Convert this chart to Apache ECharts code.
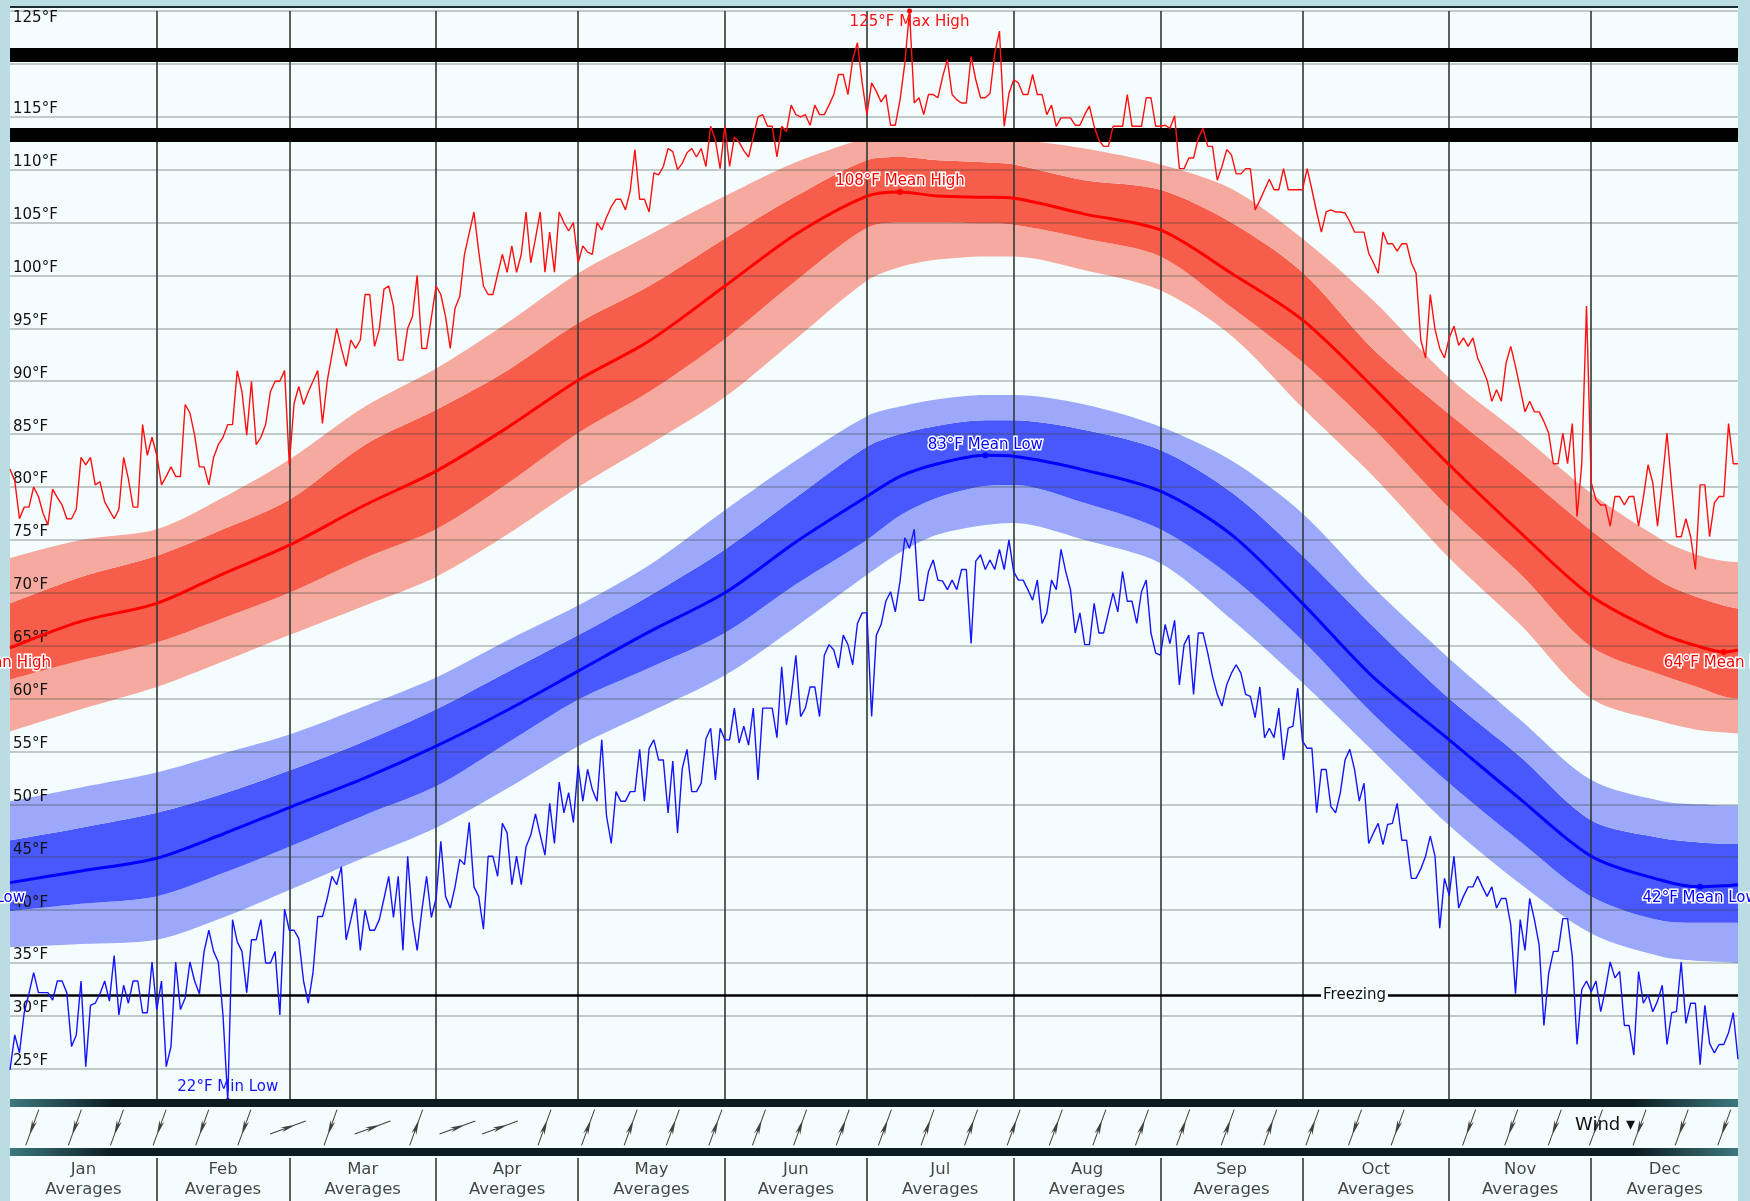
<!DOCTYPE html>
<html>
<head>
<meta charset="utf-8">
<script src="https://cdn.jsdelivr.net/npm/echarts@6/dist/echarts.min.js"></script>
<style>
html,body{margin:0;padding:0;background:#b9dde2;}
#chart{width:1750px;height:1201px;}
</style>
</head>
<body>
<div id="chart"></div>
<script>
var dayMarks = [0,15,31,45,59,75,90,105,120,135,151,166,181,188,196,206,212,227,243,258,273,288,304,319,334,349,357,362,365];

var highLightLo = [56.9,59.0,61.1,63.5,66.0,68.8,71.5,75.5,80.0,84.0,88.5,94.0,99.5,100.8,101.5,101.8,101.8,100.5,98.6,94.3,87.5,81.0,73.3,67.0,60.0,57.8,57.0,56.8,56.7];
var highDarkLo  = [61.8,63.6,65.3,67.6,70.0,73.3,76.0,80.3,85.1,89.0,94.0,99.5,104.5,105.0,105.0,104.9,104.8,103.5,101.8,97.0,91.8,85.5,78.0,71.8,64.9,62.2,61.0,60.2,60.0];
var highMean    = [64.8,67.3,69.0,71.8,74.5,78.3,81.5,85.6,90.1,93.8,99.0,103.9,107.5,107.9,107.5,107.4,107.3,105.8,104.3,100.2,95.8,89.4,82.1,75.7,69.7,66.1,64.9,64.4,64.6];
var highDarkHi  = [69.0,71.5,73.5,76.0,78.8,84.0,87.3,91.0,95.5,99.0,103.5,107.5,110.9,111.2,110.9,110.7,110.5,109.0,108.1,105.0,100.3,93.0,86.9,81.5,75.9,71.0,69.5,68.8,68.5];
var highLightHi = [73.3,75.0,76.0,79.0,82.6,87.6,91.2,95.5,100.2,103.8,107.5,110.7,113.0,113.4,113.3,113.1,112.9,112.0,110.5,108.2,103.5,97.6,90.3,85.0,79.4,75.0,73.5,73.0,72.9];

var lowLightLo = [36.5,36.8,37.2,39.3,41.9,45.0,47.8,51.5,55.5,58.7,62.2,66.8,71.7,73.8,75.5,76.4,76.6,75.0,72.8,67.5,61.5,55.0,48.0,42.5,37.8,35.6,35.2,35.1,35.0];
var lowDarkLo  = [39.9,40.6,41.3,43.5,46.0,49.0,51.7,55.8,59.9,62.9,66.2,70.8,75.0,77.3,79.0,80.1,80.2,78.5,76.0,71.5,65.5,58.5,52.0,46.5,41.3,39.0,38.8,38.8,38.8];
var lowMean    = [42.6,43.7,44.9,47.2,49.7,52.5,55.5,58.9,62.6,66.3,70.0,74.8,79.1,81.0,82.2,83.0,82.9,81.6,79.6,75.5,69.0,62.0,56.1,50.5,45.1,42.8,42.2,42.3,42.4];
var lowDarkHi  = [46.6,47.8,49.2,51.0,53.2,56.0,59.0,62.5,66.0,69.7,74.1,79.0,83.8,85.0,85.8,86.3,86.3,85.4,83.5,79.5,73.5,66.8,60.0,54.5,48.5,46.8,46.4,46.3,46.3];
var lowLightHi = [50.3,51.6,53.0,54.8,56.6,59.3,62.0,65.5,68.8,72.6,77.8,82.5,86.7,87.6,88.3,88.7,88.7,87.8,85.7,82.5,77.5,70.5,63.8,58.0,52.3,50.3,50.0,49.9,49.9];

// daily record high / record low, day 0 = Jan 1
var recordHigh = [81.7,80.6,77.0,78.1,78.1,80.0,79.1,77.5,76.4,79.8,
79.0,78.3,77.0,77.0,77.9,82.8,82.1,82.8,80.2,80.5,
78.6,77.8,77.0,77.9,82.8,80.8,78.1,78.1,85.9,83.0,
84.7,83.0,80.2,81.0,81.9,81.0,81.0,87.8,87.0,84.9,
81.9,81.9,80.2,82.8,84.0,84.7,85.9,85.9,91.0,89.0,
84.9,90.0,84.0,84.7,85.9,89.0,90.0,90.0,91.0,82.1,
87.9,89.5,87.8,89.0,90.0,91.0,86.0,90.0,92.5,95.0,
93.1,91.4,93.9,93.1,93.9,98.2,98.2,93.3,94.9,98.7,
99.0,97.1,92.0,92.0,95.0,96.1,100.0,93.1,93.1,96.0,
99.0,98.2,96.1,93.1,96.9,98.0,102.0,104.0,106.0,102.3,
99.0,98.2,98.2,100.1,102.0,100.3,102.8,100.3,102.0,106.0,
101.2,103.5,106.0,100.3,104.1,100.3,106.0,105.0,104.2,105.0,
101.2,102.8,102.2,102.0,105.0,104.3,105.5,106.5,107.2,107.2,
106.2,108.0,111.9,107.2,107.2,106.0,109.7,109.5,110.3,112.0,
111.7,110.0,110.6,111.6,112.0,111.2,112.0,110.3,114.1,112.8,
110.1,114.1,110.3,113.1,112.6,111.8,111.2,113.1,115.0,115.2,
114.1,114.1,111.2,114.1,113.6,116.1,115.2,115.0,115.2,114.2,
116.1,115.2,115.2,116.1,117.1,119.0,119.0,117.1,120.4,122.0,
118.2,115.2,118.2,117.4,116.4,117.1,114.2,114.2,116.6,120.0,
125.0,116.3,116.8,115.2,117.1,117.1,116.8,118.8,120.4,117.1,
116.6,116.3,116.3,120.7,118.5,116.8,116.8,117.2,121.0,123.1,
114.1,117.2,118.5,118.2,117.1,117.1,119.0,117.1,117.1,115.2,
116.1,114.1,114.9,114.9,114.9,114.2,114.2,115.2,116.0,114.1,
112.8,112.2,112.2,114.1,114.1,114.1,117.1,114.1,114.1,114.1,
116.8,116.8,114.1,114.1,114.2,113.9,115.1,110.1,110.1,111.1,
111.1,113.0,113.9,112.2,112.2,109.0,110.3,111.9,111.4,109.6,
109.6,110.1,110.1,106.2,107.1,108.1,109.1,108.1,108.1,110.1,
108.1,108.1,108.1,108.1,110.1,108.1,106.0,104.1,106.0,106.2,
106.0,106.0,105.9,105.1,104.1,104.1,104.1,102.1,101.2,100.2,
104.1,103.0,103.0,102.3,103.0,103.0,101.2,100.2,93.9,92.2,
98.2,94.9,93.1,92.2,94.1,95.2,93.4,94.1,93.3,94.1,
92.2,91.2,90.1,88.1,89.2,88.1,91.7,93.3,91.4,89.3,
87.1,88.1,87.1,87.1,86.2,85.1,82.2,82.2,85.1,82.2,
86.0,77.2,82.2,97.1,80.4,78.8,78.3,78.3,76.3,79.1,
79.1,78.3,79.1,79.1,76.3,79.0,82.1,80.4,76.3,80.5,
85.1,80.0,75.3,75.3,77.0,75.3,72.2,80.2,80.2,75.3,
78.5,79.1,79.1,86.0,82.2,82.2];

var recordLow = [24.9,28.2,26.5,30.3,32.1,34.1,32.2,32.2,32.2,31.5,
33.3,33.3,32.2,27.1,28.2,33.3,25.2,31.0,31.2,32.1,
33.3,31.4,35.7,30.1,32.9,31.2,33.3,33.3,30.3,30.3,
35.1,30.6,33.3,25.2,27.1,35.1,30.6,31.7,35.1,33.3,
32.1,36.1,38.1,36.1,35.1,30.0,22.0,39.1,37.0,36.1,
32.2,37.2,37.2,39.1,35.0,35.0,36.1,30.1,40.1,38.1,
38.1,37.3,33.3,31.2,34.1,39.4,39.4,41.1,43.2,42.4,
44.1,37.2,39.1,41.1,36.2,40.0,38.1,38.1,39.1,41.1,
43.2,39.3,43.2,36.2,45.1,39.1,36.2,40.0,43.2,39.3,
41.1,46.5,41.3,40.2,42.2,44.8,44.3,48.3,42.2,41.3,
38.2,45.1,45.1,43.2,48.2,47.3,42.4,45.1,42.4,46.0,
47.1,49.1,47.1,45.2,50.1,46.3,52.1,49.2,51.1,48.3,
53.7,50.3,53.3,51.4,50.3,56.1,48.9,46.3,51.2,50.3,
50.3,51.2,51.2,55.2,50.3,55.3,56.1,54.2,54.2,49.2,
54.1,47.3,53.4,55.2,51.2,51.2,52.0,56.2,57.2,52.3,
57.2,56.1,56.1,59.1,55.8,57.4,55.6,59.1,52.3,59.1,
59.1,59.1,56.3,63.0,57.5,60.2,64.1,58.3,59.1,61.1,
61.1,58.3,64.1,65.1,64.6,62.9,66.0,65.1,63.2,67.1,
68.1,68.1,58.3,66.0,67.0,69.2,70.1,68.2,71.1,75.2,
74.2,76.0,69.3,69.3,72.0,73.1,71.2,71.1,70.3,71.2,
70.3,72.2,72.2,65.2,73.0,73.6,72.2,73.1,72.2,74.1,
72.2,75.0,72.0,71.2,71.2,70.3,69.3,71.2,67.1,68.1,
71.2,70.3,74.1,72.0,70.3,66.2,68.1,65.1,65.1,69.0,
66.2,66.2,68.1,70.0,68.2,72.0,69.2,69.2,67.1,70.1,
71.2,66.2,64.3,64.1,67.0,65.2,67.4,61.3,65.1,66.0,
60.4,66.2,66.2,64.3,62.1,60.4,59.3,61.3,62.4,63.2,
62.4,60.4,60.2,58.2,61.1,56.3,57.2,56.3,59.1,54.2,
57.2,57.4,61.0,56.0,55.3,55.3,49.2,53.3,53.3,49.8,
49.2,51.1,54.2,55.2,53.3,50.3,52.0,46.3,47.3,48.2,
46.2,48.1,48.2,50.1,46.6,46.6,43.0,43.0,43.9,45.1,
47.0,45.1,38.3,43.0,41.4,45.1,40.2,41.3,42.2,42.2,
43.2,42.2,41.3,42.2,40.2,41.1,41.1,38.6,32.1,39.1,
36.2,41.1,39.1,36.7,29.1,34.0,36.1,36.1,39.2,39.2,
35.6,27.3,32.5,33.3,32.3,33.3,30.4,32.5,35.1,33.6,
34.2,29.1,29.1,26.3,34.2,31.2,32.0,30.4,31.4,32.9,
27.3,30.3,30.4,35.1,29.3,31.2,31.2,25.4,31.0,27.4,
26.5,27.3,27.3,28.4,30.3,25.9];

var monthNames = ['Jan','Feb','Mar','Apr','May','Jun','Jul','Aug','Sep','Oct','Nov','Dec'];
var monthStarts = [0,31,59,90,120,151,181,212,243,273,304,334,365];

// wind arrows: day of year and rotation (deg, counter-clockwise from pointing up)
var windDays = [4.7,13.7,22.6,31.6,40.6,49.5,58.7,67.7,76.6,85.8,94.5,103.5,112.9,122.1,131.1,140,149,158.2,166.9,175.9,184.8,193.8,203,212,220.9,230.1,239.1,247.8,257.2,266.2,275.1,284.1,293.1,308.2,317.1,326.3,335,344.2,353.1,362.1];
var windTurn = [160,160,160,160,160,160,-70,160,-70,-20,-70,-70,-20,-20,-20,-20,-20,-20,-20,-20,-20,-20,-20,-20,-20,-20,-20,-20,-20,-20,-20,160,160,160,160,160,160,160,160,160];

var freezing = 32;
var blackBars = [120.86, 113.3];

var FONT = 'DejaVu Sans';
var PLOT_BG = '#f5fcfd';
var GRID_L = 10, GRID_W = 1728;
var pxPerDay = GRID_W / 365;

function pairs(arr) { return dayMarks.map(function (d, i) { return [d, arr[i]]; }); }
// band rows are [value, day] so that stacking runs on the value column
function flip(arr) { return dayMarks.map(function (d, i) { return [arr[i], d]; }); }
function diff(a, b) { return dayMarks.map(function (d, i) { return [+(a[i] - b[i]).toFixed(2), d]; }); }
function daily(arr) { return arr.map(function (v, i) { return [i, v]; }); }

function bands(name, lo1, lo2, hi2, hi1, light, dark) {
  var base = {type: 'line', stack: name, symbol: 'none', smooth: 0.3, silent: true, z: 1,
              encode: {x: 1, y: 0}, lineStyle: {width: 0, opacity: 0}};
  return [
    Object.assign({}, base, {data: flip(lo1)}),
    Object.assign({}, base, {data: diff(lo2, lo1), areaStyle: {color: light, opacity: 1}}),
    Object.assign({}, base, {data: diff(hi2, lo2), areaStyle: {color: dark, opacity: 1}}),
    Object.assign({}, base, {data: diff(hi1, hi2), areaStyle: {color: light, opacity: 1}})
  ];
}

function tag(color, pos, dist, text) {
  return {show: true, position: pos, distance: dist, color: color, fontFamily: FONT, fontSize: 15,
          textBorderColor: '#fff', textBorderWidth: 3,
          formatter: function (p) { return Math.round(p.value) + text; }};
}

function meanMarks(arr, color, text) {
  var mn = Math.min.apply(null, arr);
  var mnDay = dayMarks[arr.indexOf(mn)];
  return {
    symbol: 'circle', symbolSize: 6, itemStyle: {color: color},
    data: [
      {type: 'max', valueDim: 'y', label: tag(color, 'top', 0, text)},
      {type: 'min', valueDim: 'y', label: tag(color, 'bottom', 1, text)},
      // same minimum from the previous year, just left of Jan 1
      {coord: [0, mn], value: mn, symbolSize: 0,
       label: Object.assign(tag(color, 'bottom', 4, text), {offset: [(mnDay - 366) * pxPerDay, 0]})}
    ]
  };
}

var chart = echarts.init(document.getElementById('chart'));

var monthLines = monthStarts.slice(1, 12).map(function (d) { return {xAxis: d}; });

var series = [].concat(
  bands('hi', highLightLo, highDarkLo, highDarkHi, highLightHi, '#f6a99e', '#f65d4b'),
  bands('lo', lowLightLo, lowDarkLo, lowDarkHi, lowLightHi, '#9ca8fa', '#4858fc'),
  [
    {name: 'lines', type: 'line', data: [], z: 4, silent: true,
     markLine: {symbol: 'none', silent: true, animation: false,
       data: monthStarts.slice(1, 12).map(function (d) {
         return {xAxis: d, lineStyle: {color: '#2f3a36', width: 1.6, type: 'solid'}, label: {show: false}};
       }).concat([
         [{coord: [0, freezing]}, {coord: [203, freezing]}],
         [{coord: [203, freezing]}, {coord: [365, freezing]}]
       ].map(function (seg, k) {
         seg[0].lineStyle = {color: '#000', width: 2.5, type: 'solid'};
         seg[0].label = k === 0 ? {show: false} :
           {show: true, position: 'middle', distance: 0, verticalAlign: 'middle', formatter: 'Freezing',
            color: '#111', fontFamily: FONT, fontSize: 15, backgroundColor: PLOT_BG, padding: [1, 2]};
         return seg;
       }))
     }},
    {name: 'Mean High', type: 'line', data: pairs(highMean), symbol: 'none', smooth: 0.3, z: 5,
     lineStyle: {color: '#ff0000', width: 3}, markPoint: meanMarks(highMean, '#ff0000', '°F Mean High')},
    {name: 'Mean Low', type: 'line', data: pairs(lowMean), symbol: 'none', smooth: 0.3, z: 5,
     lineStyle: {color: '#0000ff', width: 3}, markPoint: meanMarks(lowMean, '#0000ff', '°F Mean Low')},
    {name: 'Record High', type: 'line', data: daily(recordHigh), symbol: 'none', z: 6,
     lineStyle: {color: '#ff1010', width: 1.4},
     markPoint: {symbol: 'circle', symbolSize: 5, itemStyle: {color: '#ff0000'},
       data: [{type: 'max', valueDim: 'y', label: Object.assign(tag('#ff1010', 'bottom', 1, '°F Max High'), {textBorderWidth: 0})}]}},
    {name: 'Record Low', type: 'line', data: daily(recordLow), symbol: 'none', z: 6,
     lineStyle: {color: '#1414ff', width: 1.4},
     markPoint: {symbol: 'circle', symbolSize: 5, itemStyle: {color: '#0000ff'},
       data: [{type: 'min', valueDim: 'y', label: Object.assign(tag('#1414ff', 'top', 3, '°F Min Low'), {textBorderWidth: 0})}]}},
    {name: 'bars', type: 'line', data: [], z: 8, silent: true,
     markLine: {symbol: 'none', silent: true, animation: false, label: {show: false},
       data: blackBars.map(function (v) { return {yAxis: v, lineStyle: {color: '#000', width: 14, type: 'solid'}}; })}},
    {name: 'wind', type: 'scatter', xAxisIndex: 1, yAxisIndex: 2, z: 12, silent: true,
     symbol: 'path://M5.6,0 L8.4,0 L8.4,38 L5.6,38 Z M7,10 L14,26 L7,21.5 L0,26 Z',
     symbolSize: [14, 38], symbolKeepAspect: true,
     itemStyle: {color: '#111111'},
     data: windDays.map(function (d, i) { return {value: [d, 0.5], symbolRotate: windTurn[i]}; }),
     markLine: {symbol: 'none', silent: true, animation: false, label: {show: false},
       lineStyle: {color: '#2f3a36', width: 1.6, type: 'solid'}, data: monthLines}},
    {name: 'months', type: 'scatter', xAxisIndex: 2, yAxisIndex: 3, z: 12, silent: true,
     symbolSize: 0,
     data: monthNames.map(function (m, i) { return [(monthStarts[i] + monthStarts[i + 1]) / 2, 0.5]; }),
     label: {show: true, position: 'inside', color: '#161616', fontFamily: FONT, fontSize: 16.5, lineHeight: 20,
             formatter: function (p) { return monthNames[p.dataIndex] + '\nAverages'; }},
     markLine: {symbol: 'none', silent: true, animation: false, label: {show: false},
       lineStyle: {color: '#2f3a36', width: 1.6, type: 'solid'}, data: monthLines}}
  ]
);

function barFill() {
  return new echarts.graphic.LinearGradient(0, 0, 1, 0, [
    {offset: 0, color: '#3d7880'}, {offset: 0.06, color: '#0c1c20'},
    {offset: 0.94, color: '#0c1c20'}, {offset: 1, color: '#3d7880'}
  ]);
}

chart.setOption({
  backgroundColor: '#b9dde2',
  animation: false,
  grid: [
    {left: GRID_L, top: 11, width: GRID_W, height: 1110.7},
    {left: GRID_L, top: 1107, width: GRID_W, height: 41},
    {left: GRID_L, top: 1158, width: GRID_W, height: 43}
  ],
  xAxis: [
    {gridIndex: 0, type: 'value', min: 0, max: 365, show: false},
    {gridIndex: 1, type: 'value', min: 0, max: 365, show: false},
    {gridIndex: 2, type: 'value', min: 0, max: 365, show: false}
  ],
  yAxis: [
    {gridIndex: 0, type: 'value', min: 20, max: 125, interval: 5, z: 3, position: 'left',
     axisLine: {show: false}, axisTick: {show: false},
     splitLine: {show: true, lineStyle: {color: 'rgba(55,70,60,0.36)', width: 1.5}},
     axisLabel: {inside: true, margin: 3, verticalAlign: 'bottom', showMinLabel: false,
                 color: '#111', fontFamily: FONT, fontSize: 15,
                 formatter: function (v) { return v === 125 ? '' : v + '°F'; }}},
    {gridIndex: 0, type: 'value', min: 20, max: 125, interval: 5, z: 3, position: 'left', offset: 0,
     axisLine: {show: false}, axisTick: {show: false}, splitLine: {show: false},
     axisLabel: {inside: true, margin: 3, verticalAlign: 'top', color: '#111', fontFamily: FONT, fontSize: 15,
                 formatter: function (v) { return v === 125 ? v + '°F' : ''; }}},
    {gridIndex: 1, type: 'value', min: 0, max: 1, show: false},
    {gridIndex: 2, type: 'value', min: 0, max: 1, show: false}
  ],
  graphic: [
    {type: 'rect', z: 0, silent: true, shape: {x: GRID_L, y: 7, width: GRID_W, height: 1194}, style: {fill: PLOT_BG}},
    {type: 'rect', z: 10, silent: true, shape: {x: GRID_L, y: 6, width: GRID_W, height: 2}, style: {fill: '#1b2d33'}},
    {type: 'rect', z: 9, silent: true, shape: {x: GRID_L, y: 1107, width: GRID_W, height: 41}, style: {fill: PLOT_BG}},
    {type: 'rect', z: 10, silent: true, shape: {x: GRID_L, y: 1099, width: GRID_W, height: 8}, style: {fill: barFill()}},
    {type: 'rect', z: 10, silent: true, shape: {x: GRID_L, y: 1148, width: GRID_W, height: 8}, style: {fill: barFill()}},
    {type: 'text', z: 13, silent: true, left: 1575, top: 1116,
     style: {text: 'Wind \u25BE', fill: '#111', font: '18px "DejaVu Sans"'}}
  ],
  series: series
});
</script>
</body>
</html>
